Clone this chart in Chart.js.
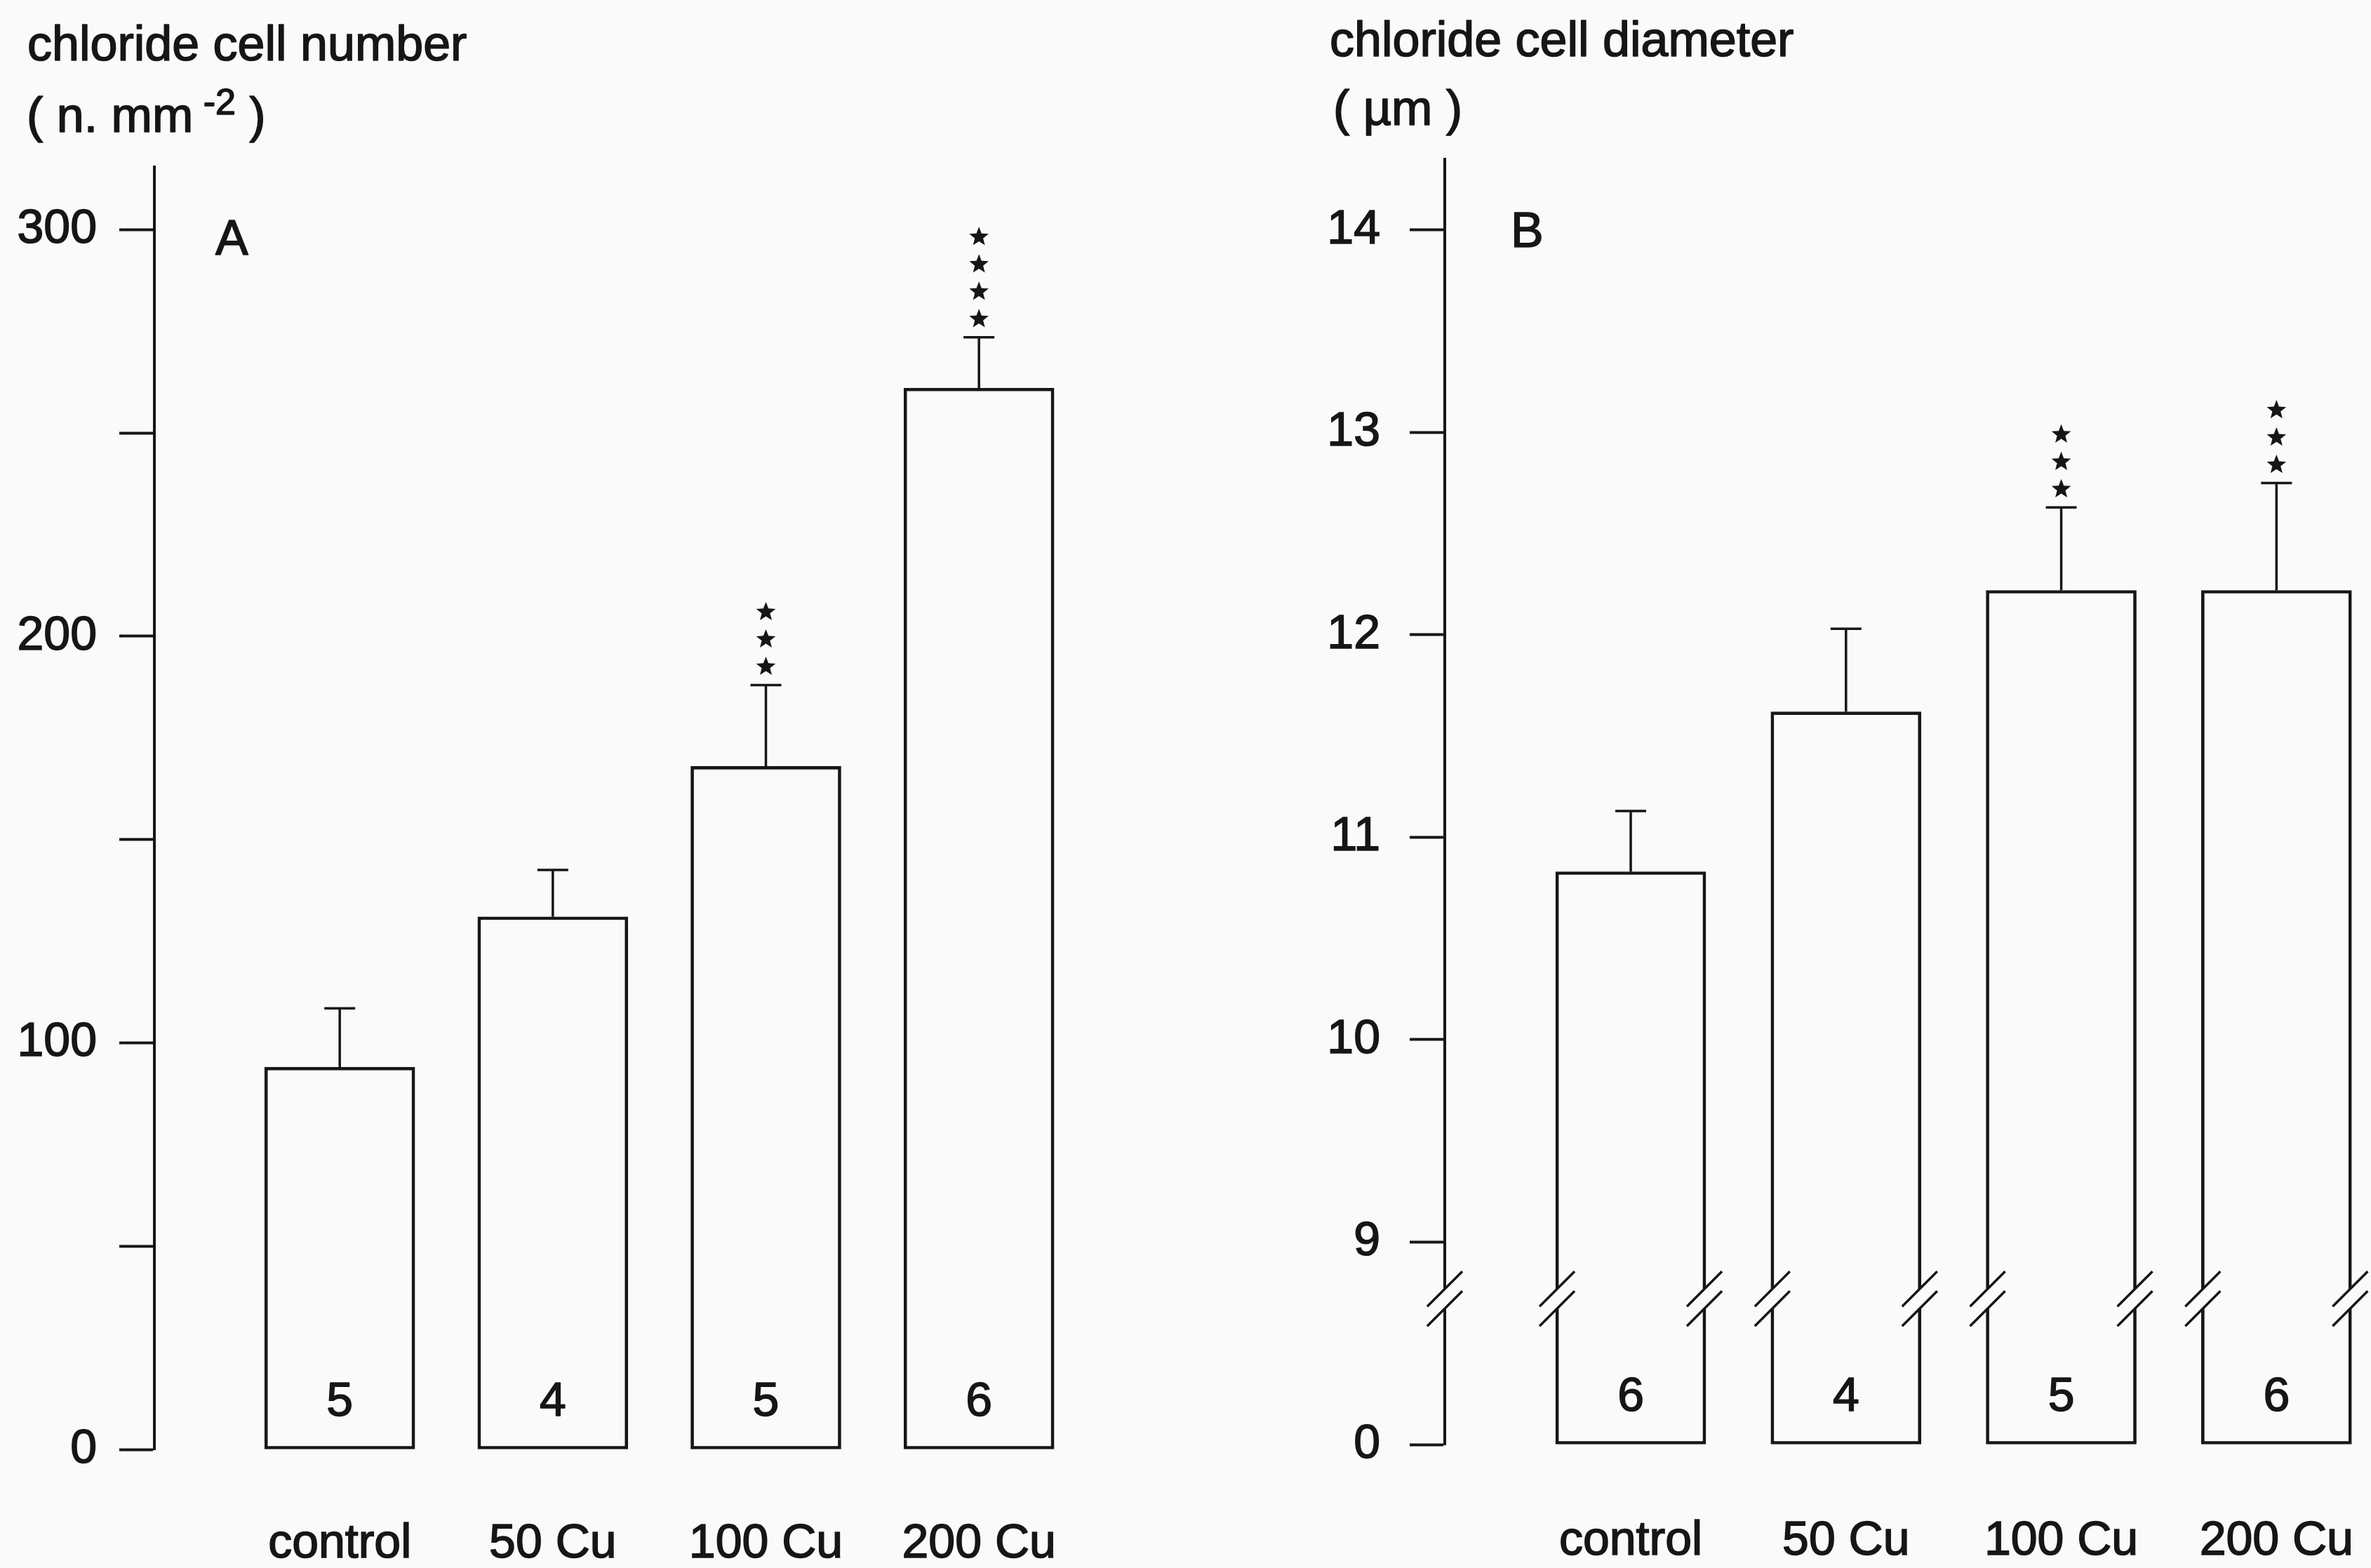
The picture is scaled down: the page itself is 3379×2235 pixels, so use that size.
<!DOCTYPE html>
<html>
<head>
<meta charset="utf-8">
<script src="https://cdn.jsdelivr.net/npm/chart.js@4.4.1/dist/chart.umd.min.js"></script>
<style>
  html, body { margin: 0; padding: 0; background: #fafafa; }
  body { width: 3379px; height: 2235px; position: relative; overflow: hidden; }
  canvas { position: absolute; top: 0; }
  #chartA { left: 0; }
  #chartB { left: 1690px; }
</style>
</head>
<body>
<canvas id="chartA" width="1690" height="2235"></canvas>
<canvas id="chartB" width="1689" height="2235"></canvas>
<script>
// ---------- data ----------
const categories = ['control', '50 Cu', '100 Cu', '200 Cu'];

const numberMean  = [94, 131, 168, 261];
const numberSE    = [14.5, 11.5, 20, 12.5];
const numberN     = [5, 4, 5, 6];
const numberStars = [0, 0, 3, 4];

const diameterMean  = [10.83, 11.62, 12.22, 12.22];
const diameterSE    = [0.30, 0.41, 0.41, 0.53];
const diameterN     = [6, 4, 5, 6];
const diameterStars = [0, 0, 3, 3];

const numberTickValues   = [0, 50, 100, 150, 200, 250, 300];
const numberTickLabels   = ['0', '', '100', '', '200', '', '300'];
const diameterTickValues = [8, 9, 10, 11, 12, 13, 14];
const diameterTickLabels = ['0', '9', '10', '11', '12', '13', '14'];

// ---------- style ----------
const INK = '#161616';
const FONT = "'Liberation Sans', Arial, Helvetica, sans-serif";
const TEXT_STROKE = 1.6;
Chart.defaults.font.family = FONT;
Chart.defaults.font.size = 68;
Chart.defaults.color = INK;

function drawStar(ctx, cx, cy, R, r) {
  ctx.beginPath();
  for (let k = 0; k < 10; k++) {
    const a = -Math.PI / 2 + k * Math.PI / 5;
    const rad = (k % 2) ? r : R;
    ctx.lineTo(cx + rad * Math.cos(a), cy + rad * Math.sin(a));
  }
  ctx.closePath();
  ctx.fill();
}

function inkText(ctx, t, x, y) {
  ctx.fillText(t, x, y);
  ctx.lineWidth = TEXT_STROKE;
  ctx.strokeText(t, x, y);
}

function makePanelPlugin(o) {
  return {
    id: 'panel',
    afterDraw(chart) {
      const ctx = chart.ctx;
      const y = chart.scales.y;
      const meta = chart.getDatasetMeta(0);
      const base = y.getPixelForValue(y.min);
      ctx.save();
      ctx.strokeStyle = INK;
      ctx.fillStyle = INK;
      ctx.lineJoin = 'round';

      // error bars, stars, n labels
      meta.data.forEach((bar, i) => {
        const cx = bar.x;
        const top = y.getPixelForValue(o.mean[i] + o.se[i]);
        ctx.lineWidth = 3.5;
        ctx.beginPath();
        ctx.moveTo(cx, bar.y);
        ctx.lineTo(cx, top);
        ctx.moveTo(cx - 22, top);
        ctx.lineTo(cx + 22, top);
        ctx.stroke();
        for (let s = 0; s < o.stars[i]; s++) {
          drawStar(ctx, cx, top - 26 - s * 39, 14.5, 6.2);
        }
        ctx.font = '68px ' + FONT;
        ctx.textAlign = 'center';
        ctx.textBaseline = 'alphabetic';
        inkText(ctx, String(o.n[i]), cx, base - 48);
      });

      // axis break marks
      if (o.breakAt !== undefined) {
        const yb = y.getPixelForValue(o.breakAt);
        const xs = [chart.chartArea.left];
        meta.data.forEach(bar => {
          const half = bar.width / 2;
          xs.push(bar.x - half + 2, bar.x + half - 2);
        });
        ctx.lineWidth = 3.5;
        xs.forEach(x => {
          ctx.clearRect(x - 5, yb - 14, 10, 28);
          ctx.beginPath();
          ctx.moveTo(x - 25, yb - 14 + 25);
          ctx.lineTo(x + 25, yb - 14 - 25);
          ctx.moveTo(x - 25, yb + 14 + 25);
          ctx.lineTo(x + 25, yb + 14 - 25);
          ctx.stroke();
        });
      }

      // titles and panel letter
      ctx.textAlign = 'left';
      ctx.textBaseline = 'alphabetic';
      o.lines.forEach(line => {
        let x = line.x;
        line.runs.forEach(run => {
          ctx.font = run.size + 'px ' + FONT;
          inkText(ctx, run.t, x, line.y - (run.dy || 0));
          x += ctx.measureText(run.t).width;
        });
      });
      ctx.restore();
    }
  };
}

function buildChart(id, o) {
  return new Chart(document.getElementById(id), {
    type: 'bar',
    data: {
      datasets: [{
        data: o.mean.map((v, i) => ({ x: i, y: v })),
        base: o.yMin,
        backgroundColor: 'rgba(0,0,0,0)',
        borderColor: INK,
        borderWidth: 4,
        borderSkipped: false,
        barThickness: 214
      }]
    },
    options: {
      responsive: false,
      animation: false,
      devicePixelRatio: 1,
      layout: { padding: o.pad },
      plugins: { legend: { display: false }, tooltip: { enabled: false }, title: { display: false } },
      scales: {
        x: {
          type: 'linear',
          min: o.xMin,
          max: o.xMax,
          offset: false,
          grid: { display: false },
          border: { display: false },
          afterBuildTicks: s => { s.ticks = categories.map((c, i) => ({ value: i })); },
          afterFit: s => { s.height = o.xHeight; s.paddingLeft = 0; s.paddingRight = 0; },
          ticks: {
            callback: v => categories[Math.round(v)],
            padding: o.xPad,
            color: INK,
            textStrokeColor: INK,
            textStrokeWidth: TEXT_STROKE,
            autoSkip: false,
            maxRotation: 0,
            minRotation: 0,
            font: { size: 68 }
          }
        },
        y: {
          type: 'linear',
          min: o.yMin,
          max: o.yMax,
          beginAtZero: false,
          afterBuildTicks: s => { s.ticks = o.tickValues.map(v => ({ value: v })); },
          afterFit: s => { s.width = o.yWidth; s.paddingTop = 0; s.paddingBottom = 0; },
          grid: { display: true, drawOnChartArea: false, drawTicks: true, tickLength: 50, tickWidth: 4, tickColor: INK },
          border: { display: true, color: INK, width: 4 },
          ticks: {
            callback: v => o.tickLabels[o.tickValues.indexOf(v)],
            padding: o.yPad,
            color: INK,
            textStrokeColor: INK,
            textStrokeWidth: TEXT_STROKE,
            autoSkip: false,
            font: { size: 68 }
          }
        }
      }
    },
    plugins: [makePanelPlugin(o)]
  });
}

buildChart('chartA', {
  mean: numberMean, se: numberSE, n: numberN, stars: numberStars,
  tickValues: numberTickValues, tickLabels: numberTickLabels,
  yMin: 0, yMax: 315.4, xMin: -0.87, xMax: 3.5,
  pad: { top: 238, right: 143, bottom: 0, left: 0 },
  yWidth: 220, xHeight: 169, xPad: 86, yPad: 32,
  lines: [
    { x: 39, y: 86, runs: [{ t: 'chloride cell number', size: 70 }] },
    { x: 38, y: 188, runs: [{ t: '( n. mm', size: 70 }, { t: ' -2', size: 52, dy: 25 }, { t: ' )', size: 70 }] },
    { x: 307, y: 363, runs: [{ t: 'A', size: 70 }] }
  ]
});

buildChart('chartB', {
  mean: diameterMean, se: diameterSE, n: diameterN, stars: diameterStars,
  tickValues: diameterTickValues, tickLabels: diameterTickLabels,
  yMin: 8, yMax: 14.35, xMin: -0.864, xMax: 3.4,
  pad: { top: 227, right: 12, bottom: 0, left: 0 },
  yWidth: 369, xHeight: 176, xPad: 89, yPad: 42,
  breakAt: 8.72,
  lines: [
    { x: 205, y: 80, runs: [{ t: 'chloride cell diameter', size: 70 }] },
    { x: 210, y: 178, runs: [{ t: '( µm )', size: 70 }] },
    { x: 463, y: 352, runs: [{ t: 'B', size: 70 }] }
  ]
});
</script>
</body>
</html>
